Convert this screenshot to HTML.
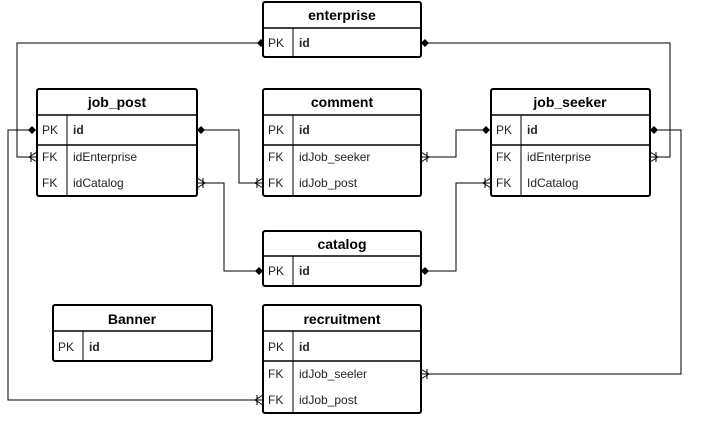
<!DOCTYPE html>
<html><head><meta charset="utf-8"><style>
html,body{margin:0;padding:0;background:#fff;}
svg{display:block;}
text{font-family:"Liberation Sans",Arial,sans-serif;}
.h{font-weight:bold;font-size:14px;text-anchor:middle;}
.r{font-size:12px;fill:#222;}
</style></head><body>
<svg width="701" height="427" viewBox="0 0 701 427" xmlns="http://www.w3.org/2000/svg">
<g fill="none" stroke="#000" stroke-width="1">
<polyline points="261,43 17,43 17,157 37,157"/>
<polyline points="423,43 670,43 670,157 650,157"/>
<polyline points="199,130 239,130 239,183 263,183"/>
<polyline points="489,130 456,130 456,157 421,157"/>
<polyline points="35,130 8,130 8,400 263,400"/>
<polyline points="652,130 681,130 681,374 421,374"/>
<polyline points="261,271 224,271 224,183 197,183"/>
<polyline points="423,271 456,271 456,183 491,183"/>
</g>
<g fill="#000">
<path d="M257 43 l4 -4 l4 4 l-4 4z"/>
<path d="M421 43 l4 -4 l4 4 l-4 4z"/>
<path d="M197 130 l4 -4 l4 4 l-4 4z"/>
<path d="M482 130 l4 -4 l4 4 l-4 4z"/>
<path d="M28 130 l4 -4 l4 4 l-4 4z"/>
<path d="M650 130 l4 -4 l4 4 l-4 4z"/>
<path d="M255 271 l4 -4 l4 4 l-4 4z"/>
<path d="M421 271 l4 -4 l4 4 l-4 4z"/>
</g>
<!-- crow feet: prongs touch entity -->
<g fill="none" stroke="#000" stroke-width="1">
<path d="M29 157 L37 152 M29 157 L37 162 M31 152 L31 162"/>
<path d="M658 157 L650 152 M658 157 L650 162 M656 152 L656 162"/>
<path d="M255 183 L263 178 M255 183 L263 188 M257 178 L257 188"/>
<path d="M429 157 L421 152 M429 157 L421 162 M427 152 L427 162"/>
<path d="M255 400 L263 395 M255 400 L263 405 M257 395 L257 405"/>
<path d="M429 374 L421 369 M429 374 L421 379 M427 369 L427 379"/>
<path d="M205 183 L197 178 M205 183 L197 188 M203 178 L203 188"/>
<path d="M483 183 L491 178 M483 183 L491 188 M485 178 L485 188"/>
</g>

<g stroke="#000" stroke-width="2" fill="#fff">
<rect x="263" y="2" width="158" height="55" rx="2"/>
<rect x="37" y="89" width="160" height="107" rx="2"/>
<rect x="263" y="89" width="158" height="107" rx="2"/>
<rect x="491" y="89" width="159" height="107" rx="2"/>
<rect x="263" y="231" width="158" height="55" rx="2"/>
<rect x="53" y="305" width="159" height="56" rx="2"/>
<rect x="263" y="305" width="158" height="108" rx="2"/>
</g>
<g stroke="#000" stroke-width="1.5">
<line x1="263" y1="28" x2="421" y2="28"/>
<line x1="37" y1="115" x2="197" y2="115"/><line x1="37" y1="145" x2="197" y2="145"/>
<line x1="263" y1="115" x2="421" y2="115"/><line x1="263" y1="145" x2="421" y2="145"/>
<line x1="491" y1="115" x2="650" y2="115"/><line x1="491" y1="145" x2="650" y2="145"/>
<line x1="263" y1="256" x2="421" y2="256"/>
<line x1="53" y1="331" x2="212" y2="331"/>
<line x1="263" y1="331" x2="421" y2="331"/><line x1="263" y1="361" x2="421" y2="361"/>
</g>
<g stroke="#000" stroke-width="1">
<line x1="293" y1="28" x2="293" y2="57"/>
<line x1="67" y1="115" x2="67" y2="196"/>
<line x1="293" y1="115" x2="293" y2="196"/>
<line x1="521" y1="115" x2="521" y2="196"/>
<line x1="293" y1="256" x2="293" y2="286"/>
<line x1="83" y1="331" x2="83" y2="361"/>
<line x1="293" y1="331" x2="293" y2="413"/>
</g>

<text class="h" x="342" y="20">enterprise</text>
<text class="r" x="268" y="47">PK</text><text class="r" x="299" y="47" font-weight="bold">id</text>

<text class="h" x="117" y="107">job_post</text>
<text class="r" x="42" y="134">PK</text><text class="r" x="73" y="134" font-weight="bold">id</text>
<text class="r" x="42" y="161">FK</text><text class="r" x="73" y="161">idEnterprise</text>
<text class="r" x="42" y="187">FK</text><text class="r" x="73" y="187">idCatalog</text>

<text class="h" x="342" y="107">comment</text>
<text class="r" x="268" y="134">PK</text><text class="r" x="299" y="134" font-weight="bold">id</text>
<text class="r" x="268" y="161">FK</text><text class="r" x="299" y="161">idJob_seeker</text>
<text class="r" x="268" y="187">FK</text><text class="r" x="299" y="187">idJob_post</text>

<text class="h" x="570" y="107">job_seeker</text>
<text class="r" x="496" y="134">PK</text><text class="r" x="527" y="134" font-weight="bold">id</text>
<text class="r" x="496" y="161">FK</text><text class="r" x="527" y="161">idEnterprise</text>
<text class="r" x="496" y="187">FK</text><text class="r" x="527" y="187">IdCatalog</text>

<text class="h" x="342" y="249">catalog</text>
<text class="r" x="268" y="275">PK</text><text class="r" x="299" y="275" font-weight="bold">id</text>

<text class="h" x="132" y="324">Banner</text>
<text class="r" x="58" y="351">PK</text><text class="r" x="89" y="351" font-weight="bold">id</text>

<text class="h" x="342" y="324">recruitment</text>
<text class="r" x="268" y="351">PK</text><text class="r" x="299" y="351" font-weight="bold">id</text>
<text class="r" x="268" y="378">FK</text><text class="r" x="299" y="378">idJob_seeler</text>
<text class="r" x="268" y="404">FK</text><text class="r" x="299" y="404">idJob_post</text>
</svg>
</body></html>
